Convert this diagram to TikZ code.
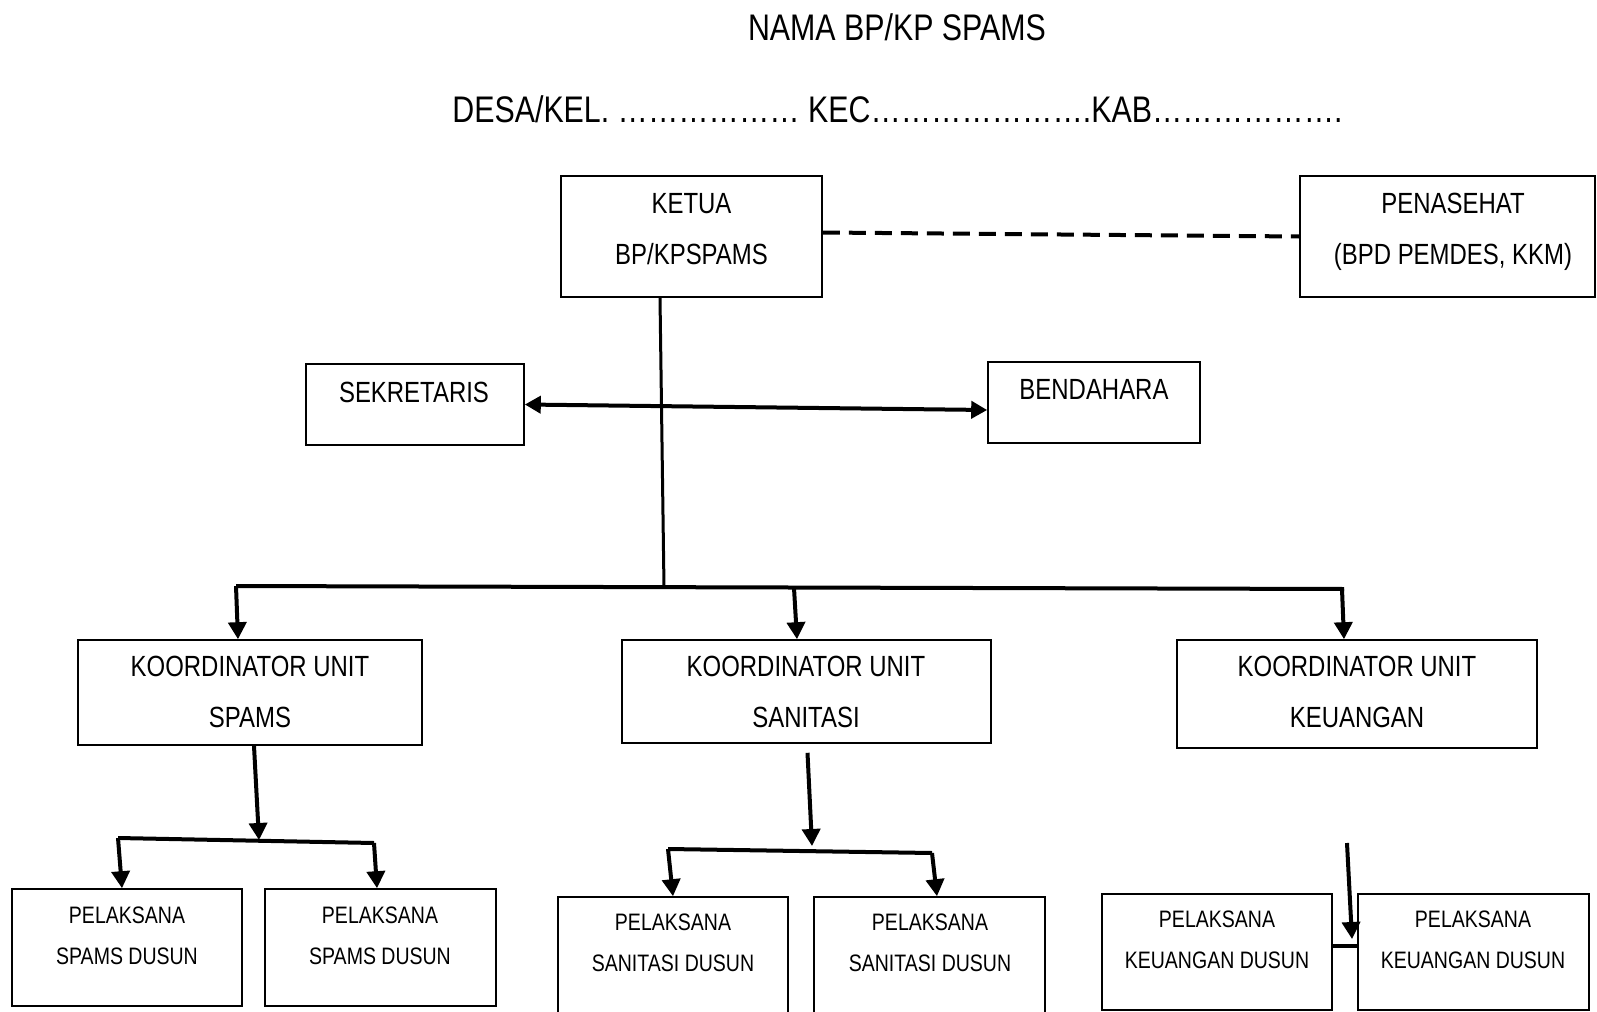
\documentclass[tikz,border=0pt]{standalone}
\usepackage{fontspec}
\setmainfont[FakeStretch=0.82]{Liberation Sans}
\usetikzlibrary{arrows.meta,fit}
\tikzset{
  box/.style={draw, line width=0.8pt, inner sep=0pt},
  bigtxt/.style={font=\fontsize{14.6}{25.5}\selectfont, align=center, inner sep=0pt},
  smalltxt/.style={font=\fontsize{11.9}{20.5}\selectfont, align=center, inner sep=0pt},
  ttl/.style={font=\fontsize{18.5}{22}\selectfont, inner sep=0pt},
  conn/.style={line width=2pt},
  arr/.style={line width=2pt, -{Triangle[width=9pt,length=8.5pt]}},
  darr/.style={line width=2pt, {Triangle[width=8.5pt,length=8pt]}-{Triangle[width=8.5pt,length=8pt]}},
  dashline/.style={line width=2pt, dash pattern=on 8.5pt off 4.5pt},
}
\begin{document}
\begin{tikzpicture}[x=0.5pt,y=-0.5pt]
\fill[white] (0,0) rectangle (1597,1012);
\useasboundingbox (0,0) rectangle (1597,1012);

% titles
\node[ttl] (title) at (897,27) {NAMA BP/KP SPAMS};
\node[ttl] (sub) at (897.5,109) {DESA/KEL. ………………\ KEC………………….KAB……………….};

% top level
\node[box, fit={(561,176) (822,297)}] (ketua) {};
\node[bigtxt] (ketuaT) at (691.5,229.5) {KETUA\\BP/KPSPAMS};
\node[box, fit={(1300,176) (1595,297)}] (penasehat) {};
\node[bigtxt] (penasehatT) at (1453,232) {PENASEHAT\\(BPD PEMDES, KKM)};

\node[box, fit={(306,364) (524,445)}] (sek) {};
\node[bigtxt] (sekT) at (414,392) {SEKRETARIS};
\node[box, fit={(988,362) (1200,443)}] (ben) {};
\node[bigtxt] (benT) at (1094,389) {BENDAHARA};

% coordinators
\node[box, fit={(78,640) (422,745)}] (kspams) {};
\node[bigtxt] (kspamsT) at (250,691.5) {KOORDINATOR UNIT\\SPAMS};
\node[box, fit={(622,640) (991,743)}] (ksan) {};
\node[bigtxt] (ksanT) at (806,691.5) {KOORDINATOR UNIT\\SANITASI};
\node[box, fit={(1177,640) (1537,748)}] (kkeu) {};
\node[bigtxt] (kkeuT) at (1357,691.5) {KOORDINATOR UNIT\\KEUANGAN};

% pelaksana
\node[box, fit={(12,889) (242,1006)}] (ps1) {};
\node[smalltxt] (ps1T) at (127,935.5) {PELAKSANA\\SPAMS DUSUN};
\node[box, fit={(265,889) (496,1006)}] (ps2) {};
\node[smalltxt] (ps2T) at (380,935.5) {PELAKSANA\\SPAMS DUSUN};
\node[box, fit={(558,897) (788,1030)}] (pn1) {};
\node[smalltxt] (pn1T) at (673,942.5) {PELAKSANA\\SANITASI DUSUN};
\node[box, fit={(814,897) (1045,1030)}] (pn2) {};
\node[smalltxt] (pn2T) at (930,942.5) {PELAKSANA\\SANITASI DUSUN};
\node[box, fit={(1102,894) (1332,1010)}] (pk1) {};
\node[smalltxt] (pk1T) at (1217,940) {PELAKSANA\\KEUANGAN DUSUN};
\node[box, fit={(1358,894) (1589,1010)}] (pk2) {};
\node[smalltxt] (pk2T) at (1473,940) {PELAKSANA\\KEUANGAN DUSUN};

% connectors top
\draw[dashline] ([yshift=2pt]ketua.east) -- (penasehat.west);
\coordinate (busL) at (236,586);
\coordinate (busM) at (664,587.5);
\coordinate (busR) at (1344,589);
\coordinate (bus2) at (794,588);
\draw[line width=1.5pt] ([xshift=-15.75pt]ketua.south) -- (busM);
\draw[darr] (sek.east) -- ([yshift=-3.75pt]ben.west);
\draw[conn] (busL) -- (busR);
\draw[arr] (busL) -- ([xshift=-6pt]kspams.north);
\draw[arr] (bus2) -- ([xshift=-4.75pt]ksan.north);
\draw[arr] ([xshift=-1pt]busR) -- ([xshift=-6.5pt]kkeu.north);

% spams branch
\coordinate (sbL) at (118,838);
\coordinate (sbR) at (374,843);
\coordinate (sbM) at (259,840);
\draw[arr] ([xshift=2pt]kspams.south) -- (sbM);
\draw[conn] (sbL) -- (sbR);
\draw[arr] (sbL) -- ([xshift=-2.5pt]ps1.north);
\draw[arr] (sbR) -- ([xshift=-1.75pt]ps2.north);

% sanitasi branch
\coordinate (nbL) at (668,849);
\coordinate (nbR) at (932,853);
\coordinate (nbTip) at (812,846);
\draw[arr] ([xshift=0.5pt,yshift=-4.5pt]ksan.south) -- (nbTip);
\draw[conn] (nbL) -- (nbR);
\draw[arr] (nbL) -- (pn1.north);
\draw[arr] (nbR) -- ([xshift=3.75pt]pn2.north);

% keuangan branch
\coordinate (kbS) at (1347,843);
\coordinate (kbE) at (1352,939);
\draw[arr] (kbS) -- (kbE);
\draw[conn] ([yshift=3pt]pk1.east) -- ([yshift=3pt]pk2.west);
\end{tikzpicture}
\end{document}
